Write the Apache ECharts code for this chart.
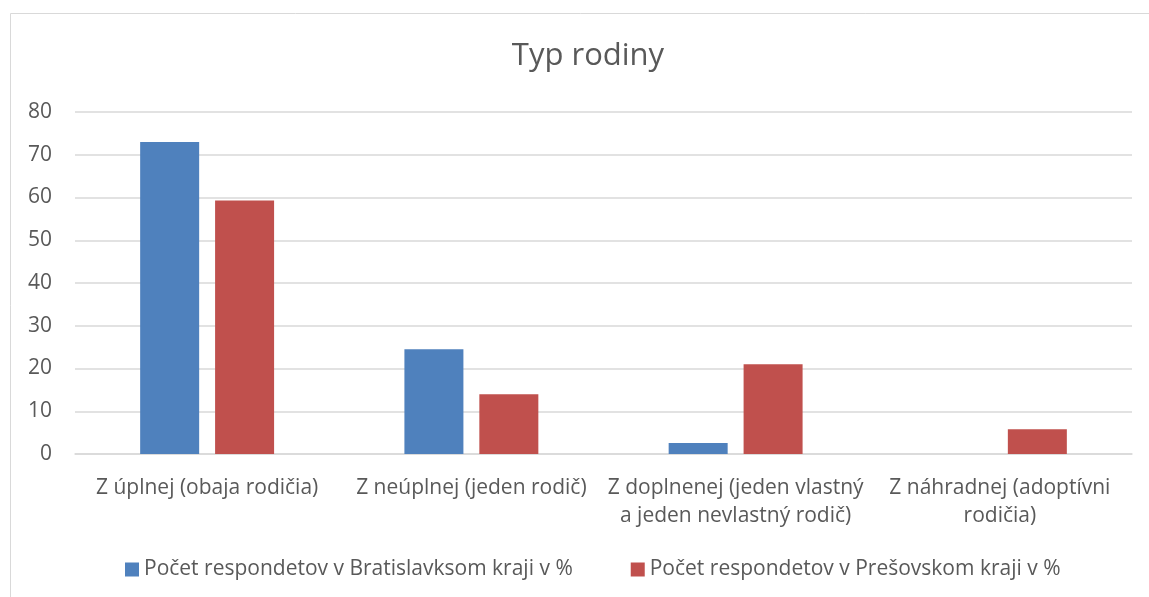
<!DOCTYPE html>
<html><head><meta charset="utf-8">
<script src="https://cdn.jsdelivr.net/npm/echarts@6/dist/echarts.min.js"></script>
<style>html,body{margin:0;padding:0;background:#fff}#c{width:1149px;height:597px}</style>
</head><body><div id="c"></div>
<script>
const categories = ['Z úplnej (obaja rodičia)', 'Z neúplnej (jeden rodič)', 'Z doplnenej (jeden vlastný\na jeden nevlastný rodič)', 'Z náhradnej (adoptívni\nrodičia)'];
const bratislava = [73.0, 24.5, 2.6, 0];
const presov = [59.3, 14.0, 21.0, 5.8];
const seriesNames = ['Počet respondetov v Bratislavksom kraji v %', 'Počet respondetov v Prešovskom kraji v %'];
const titleText = 'Typ rodiny';

const font = 'Open Sans';
const txt = '#595959';
const chart = echarts.init(document.getElementById('c'), null, {renderer: 'canvas'});
chart.setOption({
  animation: false,
  textStyle: {fontFamily: font},
  graphic: [{type: 'rect', shape: {x: 10.5, y: 13.5, width: 1200, height: 700}, style: {fill: 'none', stroke: '#d9d9d9', lineWidth: 1}, silent: true, z: -10}],
  title: {text: titleText, left: 583, top: 36, textAlign: 'center', textStyle: {fontFamily: font, fontSize: 31, fontWeight: 'normal', color: txt}},
  legend: {
    data: seriesNames, bottom: 17, left: 125, itemWidth: 14, itemHeight: 14, itemGap: 58, padding: 0,
    icon: 'rect', textStyle: {fontFamily: font, fontSize: 21, color: txt}
  },
  grid: {left: 75, right: 17, top: 112, bottom: 143, containLabel: false},
  xAxis: {
    type: 'category', data: categories,
    axisLine: {lineStyle: {color: '#d9d9d9', width: 1.5}}, axisTick: {show: false},
    axisLabel: {color: txt, fontFamily: font, fontSize: 21, margin: 20, lineHeight: 28, interval: 0, align: 'center'}
  },
  yAxis: {
    type: 'value', min: 0, max: 80, interval: 10,
    axisLine: {show: false}, axisTick: {show: false},
    axisLabel: {color: txt, fontFamily: font, fontSize: 21, margin: 23},
    splitLine: {lineStyle: {color: '#d9d9d9', width: 1.5}}
  },
  series: [
    {name: seriesNames[0], type: 'bar', data: bratislava, barWidth: 59, barGap: '27%', itemStyle: {color: '#4f81bd'}},
    {name: seriesNames[1], type: 'bar', data: presov, barWidth: 59, barGap: '27%', itemStyle: {color: '#c0504d'}}
  ]
});
</script></body></html>
